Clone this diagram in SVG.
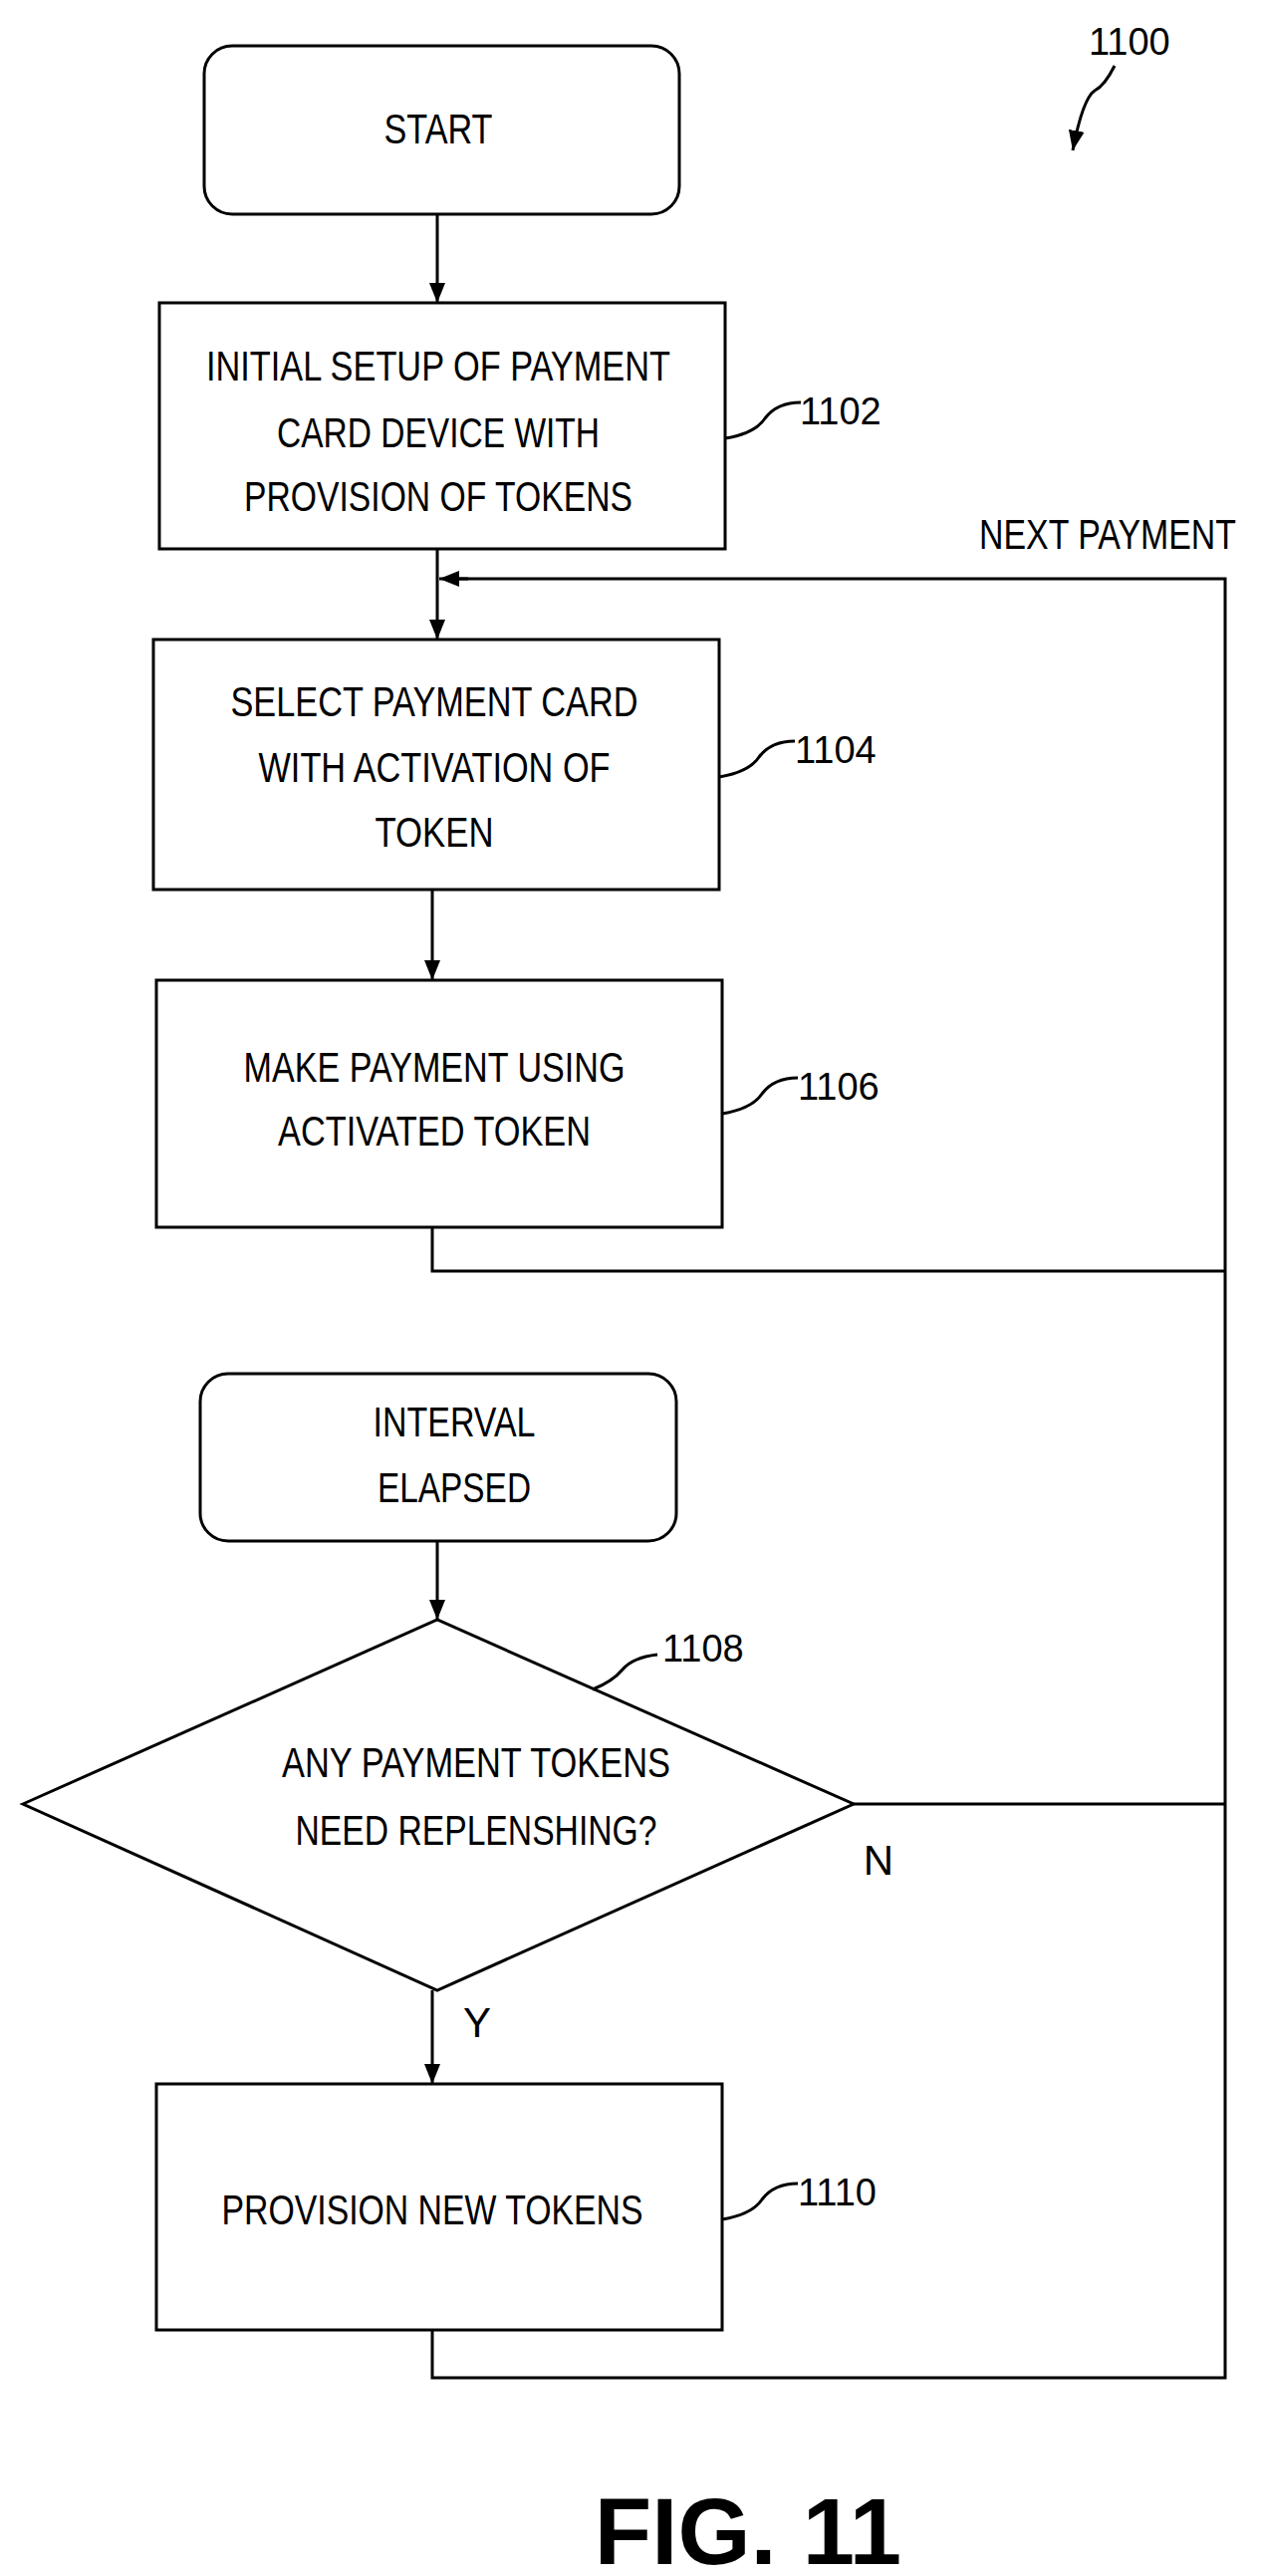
<svg xmlns="http://www.w3.org/2000/svg" width="1268" height="2586" viewBox="0 0 1268 2586">
<style>
.b{fill:#fff;stroke:#000;stroke-width:3}
.l{fill:none;stroke:#000;stroke-width:3}
text{font-family:"Liberation Sans",Arial,sans-serif;font-size:42px;fill:#000;text-anchor:middle}
.n{font-size:38px;text-anchor:start}
</style>
<defs>
<marker id="ah" viewBox="0 0 10 10" refX="10" refY="5" markerWidth="20" markerHeight="20" orient="auto" markerUnits="userSpaceOnUse"><path d="M0,1L10,5L0,9z" fill="#000"/></marker></defs>
<g id="connectors">
<line class="l" x1="439" y1="215" x2="439" y2="304" marker-end="url(#ah)"/>
<line class="l" x1="439" y1="551" x2="439" y2="642" marker-end="url(#ah)"/>
<line class="l" x1="434" y1="893" x2="434" y2="984" marker-end="url(#ah)"/>
<polyline class="l" points="434,1232 434,1276 1230,1276"/>
<polyline class="l" points="434,2339 434,2387 1230,2387 1230,581 460,581"/>
<line class="l" x1="470" y1="581" x2="441" y2="581" marker-end="url(#ah)"/>
<line class="l" x1="439" y1="1547" x2="439" y2="1626" marker-end="url(#ah)"/>
<line class="l" x1="857" y1="1811" x2="1230" y2="1811"/>
<line class="l" x1="434" y1="1998" x2="434" y2="2092" marker-end="url(#ah)"/>
<text x="1112" y="551" textLength="258" lengthAdjust="spacingAndGlyphs">NEXT PAYMENT</text>
<text x="882" y="1882">N</text>
<text x="479" y="2045">Y</text>
</g>
<g id="n1100"><text class="n" x="1093" y="55">1100</text><path class="l" d="M1119,66 q-10,20 -20,25 q-12,8 -22,60" marker-end="url(#ah)"/></g>
<g id="start"><rect class="b" x="205" y="46" width="477" height="169" rx="28"/><text x="440" y="144" textLength="109" lengthAdjust="spacingAndGlyphs">START</text></g>
<g id="n1102"><rect class="b" x="160" y="304" width="568" height="247"/>
<text x="440" y="382" textLength="466" lengthAdjust="spacingAndGlyphs">INITIAL SETUP OF PAYMENT</text>
<text x="440" y="449" textLength="324" lengthAdjust="spacingAndGlyphs">CARD DEVICE WITH</text>
<text x="440" y="513" textLength="390" lengthAdjust="spacingAndGlyphs">PROVISION OF TOKENS</text>
<path class="l" d="M728,440 q30,-5 40,-20 q12,-16 36,-16"/><text class="n" x="803" y="426">1102</text></g>
<g id="n1104"><rect class="b" x="154" y="642" width="568" height="251"/>
<text x="436" y="719" textLength="409" lengthAdjust="spacingAndGlyphs">SELECT PAYMENT CARD</text>
<text x="436" y="785" textLength="353" lengthAdjust="spacingAndGlyphs">WITH ACTIVATION OF</text>
<text x="436" y="850" textLength="119" lengthAdjust="spacingAndGlyphs">TOKEN</text>
<path class="l" d="M722,780 q30,-5 40,-20 q12,-16 36,-16"/><text class="n" x="798" y="766">1104</text></g>
<g id="n1106"><rect class="b" x="157" y="984" width="568" height="248"/>
<text x="436" y="1086" textLength="383" lengthAdjust="spacingAndGlyphs">MAKE PAYMENT USING</text>
<text x="436" y="1150" textLength="314" lengthAdjust="spacingAndGlyphs">ACTIVATED TOKEN</text>
<path class="l" d="M725,1118 q30,-5 40,-20 q12,-16 36,-16"/><text class="n" x="801" y="1104">1106</text></g>
<g id="interval"><rect class="b" x="201" y="1379" width="478" height="168" rx="28"/>
<text x="456" y="1442" textLength="163" lengthAdjust="spacingAndGlyphs">INTERVAL</text>
<text x="456" y="1508" textLength="154" lengthAdjust="spacingAndGlyphs">ELAPSED</text></g>
<g id="n1108"><polygon class="b" points="23,1811 439,1626 857,1811 439,1998"/>
<text x="478" y="1784" textLength="390" lengthAdjust="spacingAndGlyphs">ANY PAYMENT TOKENS</text>
<text x="478" y="1852" textLength="363" lengthAdjust="spacingAndGlyphs">NEED REPLENSHING?</text>
<path class="l" d="M595,1696 q20,-8 30,-20 q10,-12 35,-15"/><text class="n" x="665" y="1668">1108</text></g>
<g id="n1110"><rect class="b" x="157" y="2092" width="568" height="247"/>
<text x="434" y="2233" textLength="423" lengthAdjust="spacingAndGlyphs">PROVISION NEW TOKENS</text>
<path class="l" d="M725,2228 q30,-5 40,-20 q12,-16 36,-16"/><text class="n" x="801" y="2214">1110</text></g>
<text x="751" y="2574" style="font-size:94px;font-weight:bold">FIG. 11</text>
</svg>
